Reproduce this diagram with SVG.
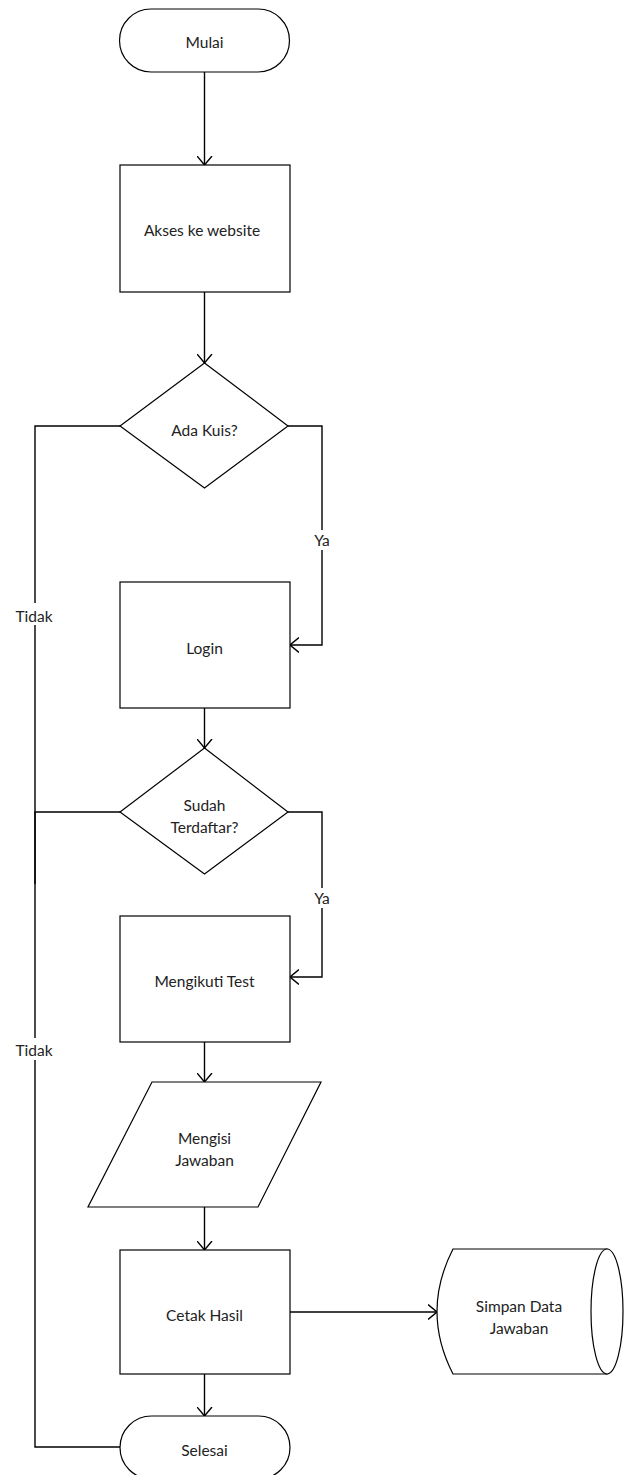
<svg xmlns="http://www.w3.org/2000/svg" width="625" height="1475" viewBox="0 0 625 1475">
<defs>
<marker id="arr" viewBox="0 0 9 16" refX="9" refY="8" markerWidth="9" markerHeight="16" markerUnits="userSpaceOnUse" orient="auto">
<path d="M0,0.5 L9,8 L0,15.5" fill="none" stroke="#000" stroke-width="1.4"/>
</marker>
</defs>
<style>
.s{fill:#fff;stroke:#000;stroke-width:1.2}
.c{fill:none;stroke:#000;stroke-width:1.4}
.t{font-family:Lato,"Liberation Sans",sans-serif;font-size:15.5px;fill:#222;text-anchor:middle;dominant-baseline:central}
.lb{fill:#fff;stroke:none}
</style>
<rect width="625" height="1475" fill="#fff"/>
<g id="connectors">
<line class="c" x1="204.5" y1="72" x2="204.5" y2="165" marker-end="url(#arr)"/>
<line class="c" x1="204.5" y1="292" x2="204.5" y2="363" marker-end="url(#arr)"/>
<polyline class="c" points="288,426 322,426 322,645 290,645" marker-end="url(#arr)"/>
<polyline class="c" points="120,426 35,426 35,884"/>
<line class="c" x1="204.5" y1="708" x2="204.5" y2="748" marker-end="url(#arr)"/>
<polyline class="c" points="288,812 322,812 322,977 290,977" marker-end="url(#arr)"/>
<polyline class="c" points="120,812 35,812 35,1447 120,1447"/>
<line class="c" x1="204.5" y1="1042" x2="204.5" y2="1082" marker-end="url(#arr)"/>
<line class="c" x1="204.5" y1="1207" x2="204.5" y2="1250" marker-end="url(#arr)"/>
<line class="c" x1="290" y1="1312" x2="437" y2="1312" marker-end="url(#arr)"/>
<line class="c" x1="204.5" y1="1374" x2="204.5" y2="1416" marker-end="url(#arr)"/>
<rect class="lb" x="311" y="530" width="24" height="20"/>
<text class="t" x="322" y="540">Ya</text>
<rect class="lb" x="311" y="888" width="24" height="20"/>
<text class="t" x="322" y="898">Ya</text>
<rect class="lb" x="12" y="603" width="44" height="22"/>
<text class="t" x="34" y="616">Tidak</text>
<rect class="lb" x="12" y="1038" width="44" height="22"/>
<text class="t" x="34" y="1050">Tidak</text>
</g>
<g id="mulai">
<rect class="s" x="119.5" y="9" width="170" height="63" rx="31.5"/>
<text class="t" x="204.5" y="42">Mulai</text>
</g>
<g id="akses">
<rect class="s" x="120" y="165" width="170" height="127"/>
<text class="t" x="202" y="230">Akses ke website</text>
</g>
<g id="adakuis">
<polygon class="s" points="204.5,363 288,426 204.5,488 120,426"/>
<text class="t" x="204.5" y="430">Ada Kuis?</text>
</g>
<g id="login">
<rect class="s" x="120" y="582" width="170" height="126"/>
<text class="t" x="204.5" y="648">Login</text>
</g>
<g id="terdaftar">
<polygon class="s" points="204.5,748 288,812 204.5,874 120,812"/>
<text class="t" x="204.5" y="805">Sudah</text>
<text class="t" x="204.5" y="827">Terdaftar?</text>
</g>
<g id="test">
<rect class="s" x="120" y="916" width="170" height="126"/>
<text class="t" x="204.5" y="981">Mengikuti Test</text>
</g>
<g id="jawaban">
<polygon class="s" points="152,1082 321,1082 258,1207 88,1207"/>
<text class="t" x="204.5" y="1138">Mengisi</text>
<text class="t" x="204.5" y="1160">Jawaban</text>
</g>
<g id="cetak">
<rect class="s" x="120" y="1250" width="170" height="124"/>
<text class="t" x="204.5" y="1315">Cetak Hasil</text>
</g>
<g id="simpan">
<path class="s" d="M453,1249 L607,1249 L607,1374 L453,1374 Q421,1311.5 453,1249 Z"/>
<ellipse class="s" cx="607" cy="1311.5" rx="16" ry="62.5"/>
<text class="t" x="519" y="1306">Simpan Data</text>
<text class="t" x="519" y="1328">Jawaban</text>
</g>
<g id="selesai">
<rect class="s" x="120" y="1416" width="170" height="63" rx="31.5"/>
<text class="t" x="204.5" y="1450">Selesai</text>
</g>
</svg>
